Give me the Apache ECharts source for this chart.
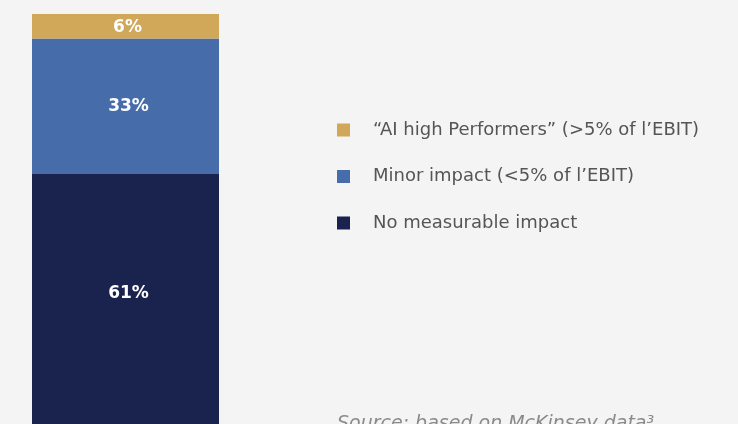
<!DOCTYPE html>
<html>
<head>
<meta charset="utf-8">
<script src="https://cdn.jsdelivr.net/npm/echarts@6/dist/echarts.min.js"></script>
<style>
  html, body { margin: 0; padding: 0; background: #f3f4f3; }
  #chart { width: 738px; height: 424px; }
</style>
</head>
<body>
<div id="chart"></div>
<script>
// Share of companies by EBIT impact from AI (single stacked column)
const categories = ['Companies'];
const seriesNames = [
  '\u201CAI high Performers\u201D (>5% of l\u2019EBIT)',
  'Minor impact (<5% of l\u2019EBIT)',
  'No measurable impact'
];
const highPerformers = [6];
const minorImpact = [33];
const noImpact = [61];
const sourceNote = 'Source: based on McKinsey data\u00B3';

const FONT = '"DejaVu Sans", "Noto Sans", sans-serif';
const colors = { high: '#d1a75a', minor: '#466caa', none: '#1a234d' };

const labelStyle = {
  show: true,
  position: 'inside',
  color: '#ffffff',
  fontFamily: FONT,
  fontWeight: 'bold',
  fontSize: 17,
  formatter: p => p.value + '%'
};

const chart = echarts.init(document.getElementById('chart'), null, { renderer: 'canvas' });

chart.setOption({
  backgroundColor: '#f3f4f3',
  animation: false,
  grid: { left: 32, top: 14, width: 187, height: 413.5 },
  xAxis: {
    type: 'category',
    data: categories,
    show: false
  },
  yAxis: {
    type: 'value',
    min: 0,
    max: 100,
    show: false
  },
  legend: {
    orient: 'vertical',
    left: 337,
    top: 120,
    padding: 0,
    icon: 'rect',
    itemWidth: 13,
    itemHeight: 13,
    itemGap: 26.5,
    data: seriesNames,
    textStyle: {
      fontFamily: FONT,
      fontSize: 18,
      lineHeight: 20,
      color: '#555555',
      padding: [0, 0, 0, 18]
    }
  },
  series: [
    {
      name: seriesNames[2],
      type: 'bar',
      stack: 'total',
      barWidth: '100%',
      data: noImpact,
      itemStyle: { color: colors.none },
      label: Object.assign({}, labelStyle, { offset: [3, -5] })
    },
    {
      name: seriesNames[1],
      type: 'bar',
      stack: 'total',
      barWidth: '100%',
      data: minorImpact,
      itemStyle: { color: colors.minor },
      label: Object.assign({}, labelStyle, { offset: [3, 0] })
    },
    {
      name: seriesNames[0],
      type: 'bar',
      stack: 'total',
      barWidth: '100%',
      data: highPerformers,
      itemStyle: { color: colors.high },
      label: Object.assign({}, labelStyle, { offset: [2, 1] })
    }
  ],
  graphic: [
    {
      type: 'text',
      left: 337,
      top: 415,
      style: {
        text: sourceNote,
        fontFamily: FONT,
        fontStyle: 'italic',
        fontSize: 19,
        fill: '#8a8a8a'
      }
    }
  ]
});
</script>
</body>
</html>
